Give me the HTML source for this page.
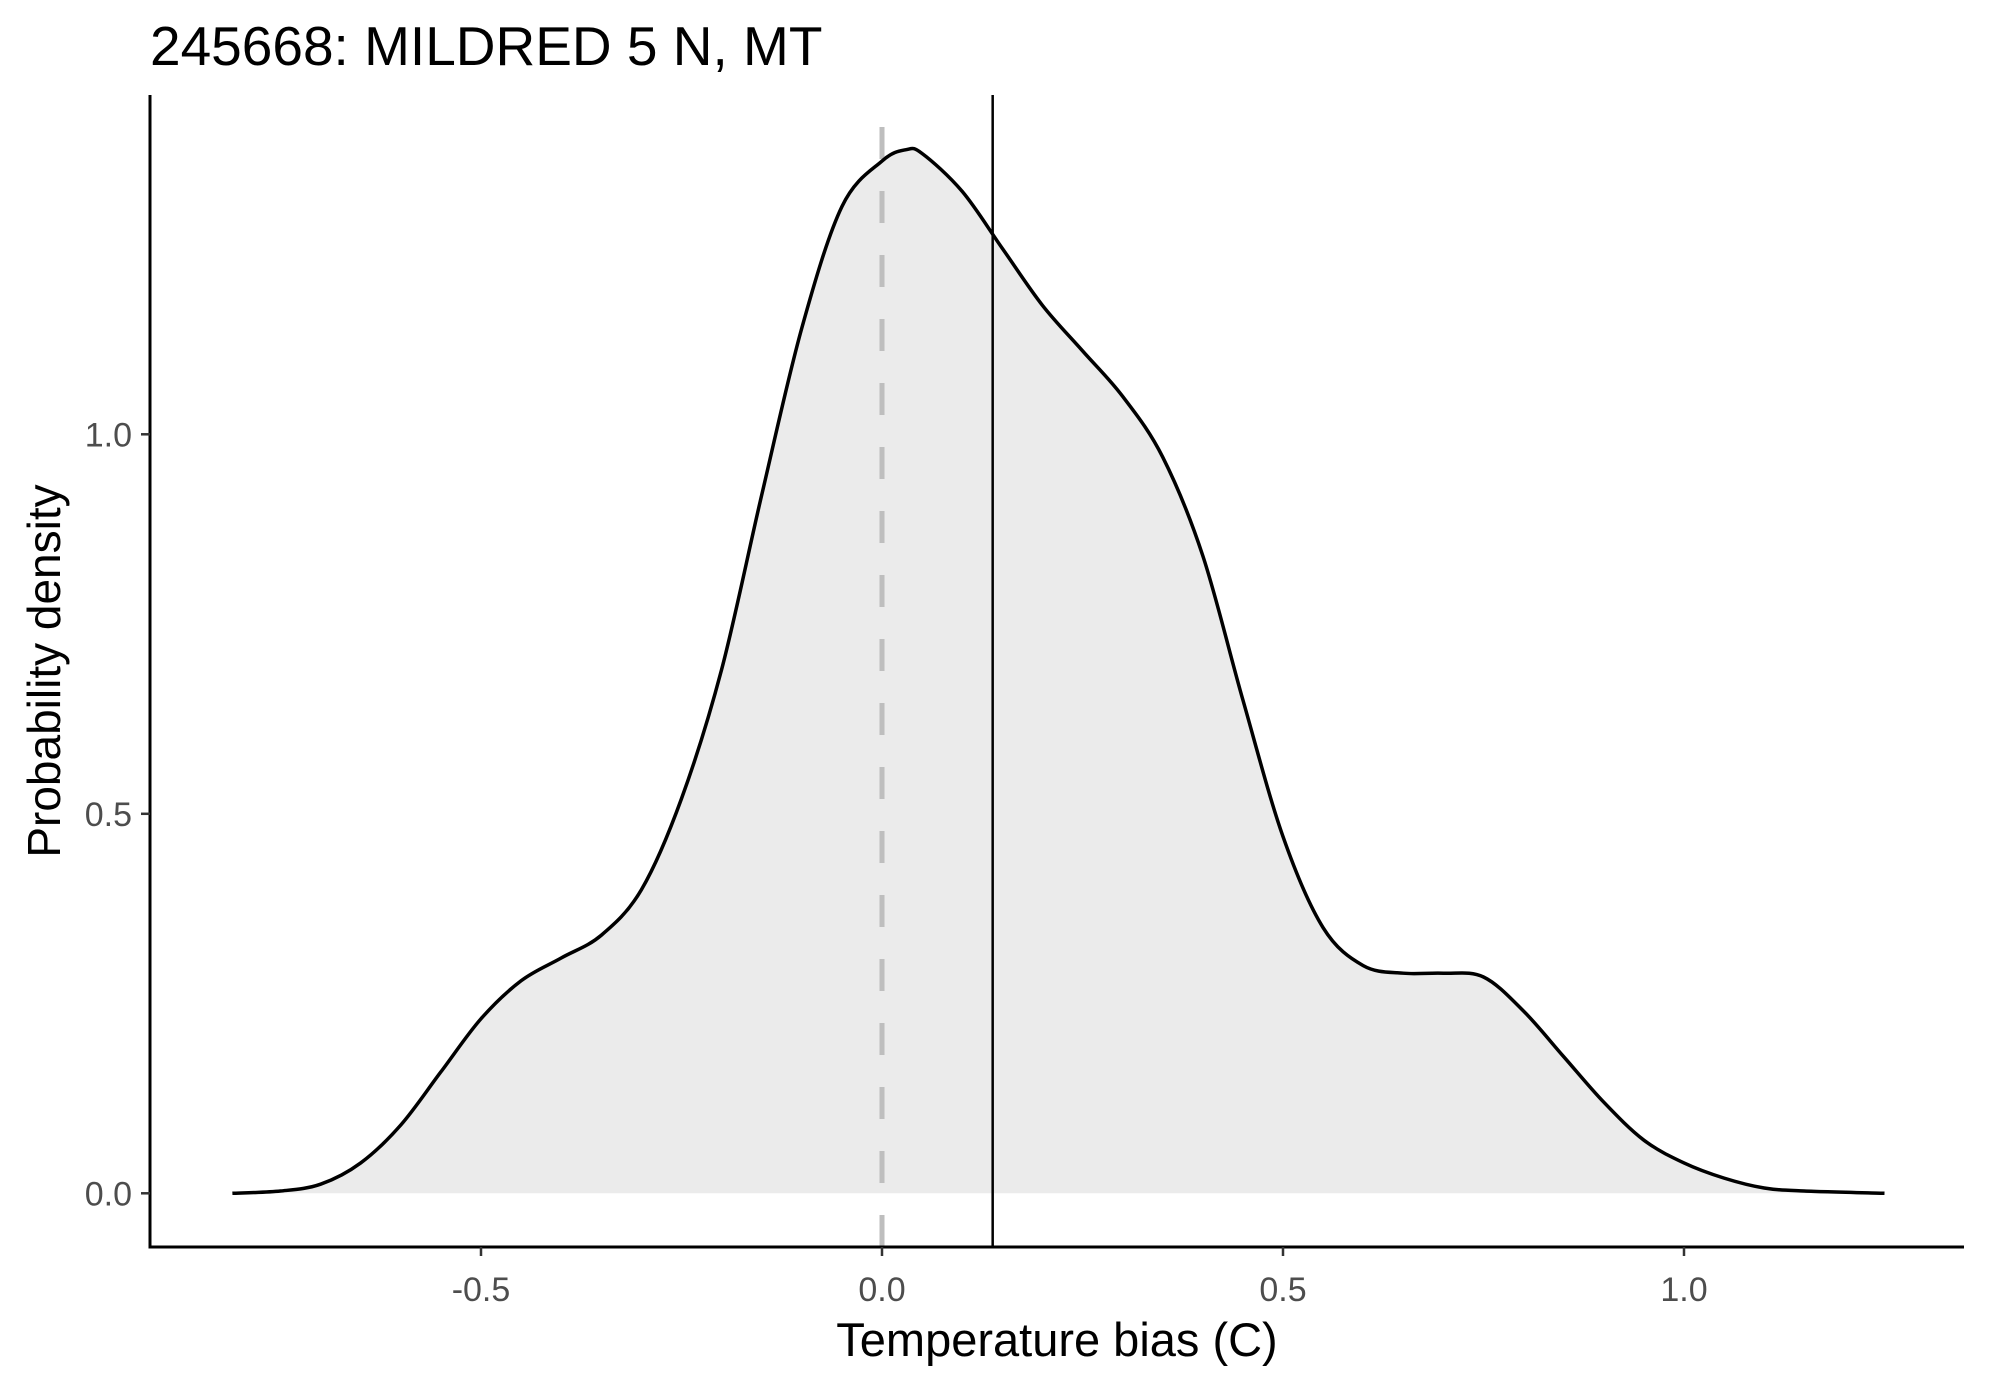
<!DOCTYPE html>
<html><head><meta charset="utf-8"><style>
html,body{margin:0;padding:0;background:#fff;}
svg{display:block;font-family:"Liberation Sans",Arial,sans-serif;}
</style></head><body>
<svg id="chart" width="1990" height="1384" viewBox="0 0 1990 1384" xmlns="http://www.w3.org/2000/svg">
<text x="150" y="65" font-size="55" fill="#000">245668: MILDRED 5 N, MT</text>
<g id="plot"></g>
<text x="1057" y="1356" font-size="47" text-anchor="middle" fill="#000">Temperature bias (C)</text>
<text transform="translate(60,671) rotate(-90)" font-size="46" text-anchor="middle" fill="#000">Probability density</text>
</svg>
<script>
const xs = [-0.81,-0.75,-0.70,-0.65,-0.60,-0.55,-0.50,-0.45,-0.40,-0.35,-0.30,-0.25,-0.20,-0.15,-0.10,-0.05,0.0,0.03,0.05,0.10,0.15,0.20,0.25,0.30,0.35,0.40,0.45,0.50,0.55,0.60,0.65,0.70,0.75,0.80,0.85,0.90,0.95,1.00,1.05,1.10,1.15,1.25];
const dens = [0.0,0.003,0.012,0.04,0.09,0.16,0.23,0.28,0.31,0.34,0.40,0.52,0.69,0.92,1.14,1.30,1.36,1.375,1.37,1.32,1.245,1.17,1.11,1.05,0.97,0.84,0.65,0.47,0.35,0.30,0.29,0.29,0.285,0.24,0.18,0.12,0.07,0.04,0.02,0.007,0.003,0.0];
const xTicks = [-0.5,0.0,0.5,1.0];
const xTickLabels = ["-0.5","0.0","0.5","1.0"];
const yTicks = [0.0,0.5,1.0];
const yTickLabels = ["0.0","0.5","1.0"];
const refLine = [0.0];
const meanLine = [0.138];

const NS="http://www.w3.org/2000/svg";
const L=150,R=1964,T=95,B=1247;
const X=v=>882+v*802;
const Y=v=>1193.3-v*759;
const g=document.getElementById('plot');
function mk(t,a){const e=document.createElementNS(NS,t);for(const k in a)e.setAttribute(k,a[k]);return e;}

const pts=xs.map((x,i)=>[X(x),Y(dens[i])]);
let d=`M${pts[0][0]},${pts[0][1]}`;
for(let i=0;i<pts.length-1;i++){
  const p0=pts[Math.max(0,i-1)],p1=pts[i],p2=pts[i+1],p3=pts[Math.min(pts.length-1,i+2)];
  const c1=[p1[0]+(p2[0]-p0[0])/6,p1[1]+(p2[1]-p0[1])/6];
  const c2=[p2[0]-(p3[0]-p1[0])/6,p2[1]-(p3[1]-p1[1])/6];
  d+=` C${c1[0]},${c1[1]} ${c2[0]},${c2[1]} ${p2[0]},${p2[1]}`;
}
const area=mk('path',{d:d+` L${pts[pts.length-1][0]},${Y(0)} L${pts[0][0]},${Y(0)} Z`,fill:'#ebebeb',stroke:'none'});


g.appendChild(area);

refLine.forEach(v=>{
  const l=mk('line',{x1:X(v),x2:X(v),y1:127,y2:B,stroke:'#bebebe','stroke-width':5,'stroke-dasharray':'32 32'});
  
  
  g.appendChild(l);
});

const line=mk('path',{d:d,fill:'none',stroke:'#000','stroke-width':3.5});


g.appendChild(line);

meanLine.forEach(v=>{
  const l=mk('line',{x1:X(v),x2:X(v),y1:T,y2:B,stroke:'#000','stroke-width':2.5});
  
  
  g.appendChild(l);
});

const ya=mk('line',{x1:L,x2:L,y1:T,y2:B+1.5,stroke:'#000','stroke-width':3});


g.appendChild(ya);
const xa=mk('line',{x1:L-1.5,x2:R,y1:B,y2:B,stroke:'#000','stroke-width':3});


g.appendChild(xa);

xTicks.forEach((v,i)=>{
  const t=mk('line',{x1:X(v),x2:X(v),y1:B,y2:B+9,stroke:'#333','stroke-width':2.5});
  
  
  g.appendChild(t);
  const tx=mk('text',{x:X(v),y:1301,'font-size':34,'text-anchor':'middle',fill:'#4d4d4d'});
  tx.textContent=xTickLabels[i];
  
  
  g.appendChild(tx);
});
yTicks.forEach((v,i)=>{
  const t=mk('line',{x1:L-9,x2:L,y1:Y(v),y2:Y(v),stroke:'#333','stroke-width':2.5});
  
  
  g.appendChild(t);
  const tx=mk('text',{x:132,y:Y(v)+12,'font-size':34,'text-anchor':'end',fill:'#4d4d4d'});
  tx.textContent=yTickLabels[i];
  
  
  g.appendChild(tx);
});
</script>
</body></html>
